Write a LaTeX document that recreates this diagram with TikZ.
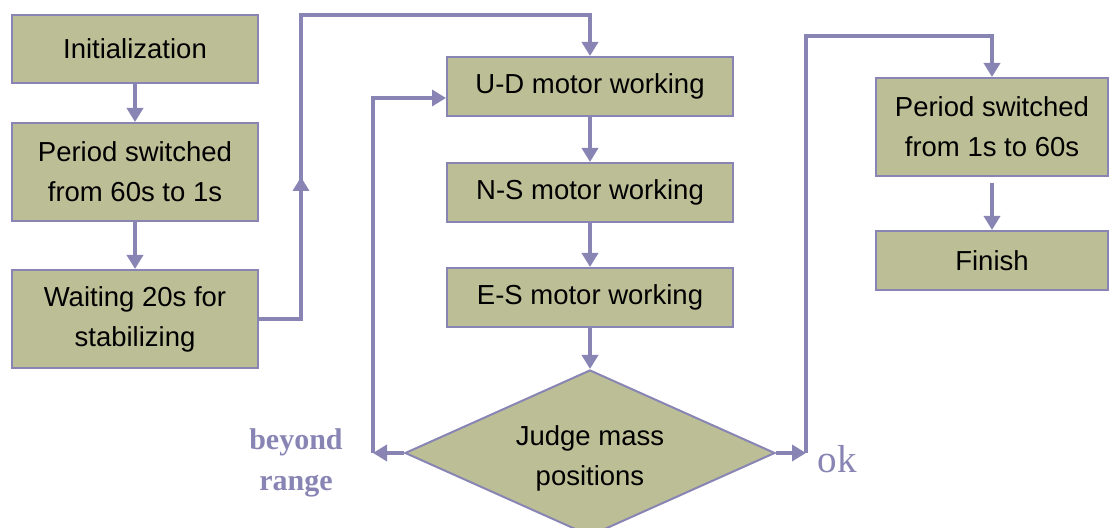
\documentclass[tikz,border=0pt]{standalone}
\usepackage{fontspec}
\setmainfont{Liberation Sans}
\newfontfamily\serifont{Liberation Serif}
\usetikzlibrary{arrows.meta,shapes.geometric}
\definecolor{boxfill}{RGB}{188,191,150}
\definecolor{lin}{RGB}{136,133,180}
\begin{document}
\begin{tikzpicture}[x=0.5pt,y=-0.5pt,
  box/.style={draw=lin,line width=1pt,fill=boxfill,inner sep=0pt,align=center,
    font=\fontsize{13.75pt}{20pt}\selectfont},
  conn/.style={draw=lin,line width=2pt,-{Triangle[length=7pt,width=8pt]}},
  lbl/.style={text=lin,align=center,inner sep=0pt}]
\useasboundingbox (0,0) rectangle (1110,528);
% left column
\node[box,minimum width=123pt,minimum height=34pt] (init) at (135,49) {Initialization};
\node[box,minimum width=123pt,minimum height=49pt] (p1) at (135,172) {Period switched\\from 60s to 1s};
\node[box,minimum width=123pt,minimum height=49pt] (wait) at (135,319) {Waiting 20s for\\stabilizing};
% middle column
\node[box,minimum width=143pt,minimum height=29.5pt] (ud) at (590,86.5) {U-D motor working};
\node[box,minimum width=143pt,minimum height=29.5pt] (ns) at (590,192.5) {N-S motor working};
\node[box,minimum width=143pt,minimum height=29.5pt] (es) at (590,297.5) {E-S motor working};
\node[box,shape=diamond,aspect=2.23,minimum width=185pt,minimum height=83pt] (judge) at (590,453) {};
\node[align=center,inner sep=0pt,font=\fontsize{13.75pt}{20pt}\selectfont] (judgetext) at (590,458) {Judge mass\\positions};
% right column
\node[box,minimum width=116pt,minimum height=49pt] (p2) at (992,127) {Period switched\\from 1s to 60s};
\node[box,minimum width=116pt,minimum height=29.5pt] (fin) at (992,260.5) {Finish};
% labels
\node[lbl,font=\serifont\bfseries\fontsize{15pt}{20.5pt}\selectfont] (beyond) at (296,463) {beyond\\range};
\node[lbl,font=\serifont\fontsize{19.5pt}{20pt}\selectfont] (ok) at (837,459) {ok};
% coordinates
\coordinate (wr) at (301,319);
\coordinate (wup) at (301,177);
\coordinate (wtop) at (301,15);
\coordinate (bl) at (373,453);
\coordinate (bltop) at (373,98);
\coordinate (br) at (806,453);
\coordinate (brtop) at (806,36);
% connectors
\draw[conn] (init) -- (p1);
\draw[conn] (p1) -- (wait);
\draw[conn] (wait.east |- wr) -- (wr) -- (wup);
\draw[conn] (wr) -- (wtop) -- (ud.north |- wtop) -- (ud.north);
\draw[conn] (ud) -- (ns);
\draw[conn] (ns) -- (es);
\draw[conn] (es) -- (judge.north);
\draw[conn] (judge.west) -- (bl);
\draw[conn] (bl) -- (bltop) -- (ud.west |- bltop);
\draw[conn] (judge.east) -- (br);
\draw[conn] (br) -- (brtop) -- (p2.north |- brtop) -- (p2.north);
\draw[conn,shorten <=3pt] (p2) -- (fin);
\end{tikzpicture}
\end{document}
